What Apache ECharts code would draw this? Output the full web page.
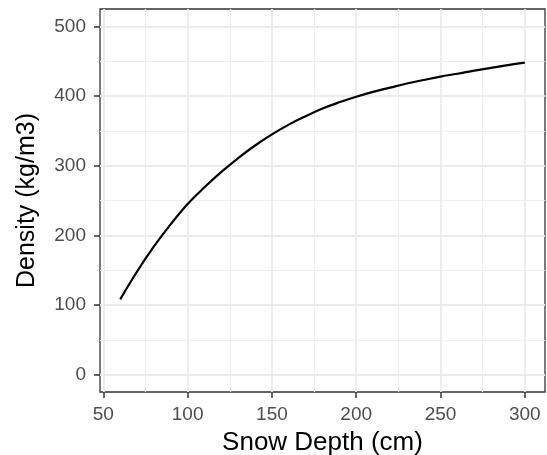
<!DOCTYPE html>
<html>
<head>
<meta charset="utf-8">
<script src="https://cdn.jsdelivr.net/npm/echarts@6/dist/echarts.min.js"></script>
<style>
html,body{margin:0;padding:0;background:#fff;}
#chart{width:547px;height:455px;}
</style>
</head>
<body>
<div id="chart"></div>
<script>
// Data
const snowDepth = [60, 70, 80, 90, 100, 110, 120, 130, 140, 150, 160, 170, 180, 190, 200,
                   210, 220, 230, 240, 250, 260, 270, 280, 290, 300];
const density   = [108, 148, 184, 216, 245, 269, 291, 311, 329, 345, 359, 371, 382, 391, 399,
                   406, 412, 418, 423, 428, 432, 436.5, 440.5, 444.5, 448];
const xTicks = [50, 100, 150, 200, 250, 300];
const yTicks = [0, 100, 200, 300, 400, 500];
const yMajorGrid = [0, 100, 200, 300, 400, 500];
const yMinorGrid = [50, 150, 250, 350, 450];
const xMinorGrid = [75, 125, 175, 225, 275];
const xTitle = 'Snow Depth (cm)';
const yTitle = 'Density (kg/m3)';

const FONT = '"Liberation Sans", Arial, sans-serif';
const chart = echarts.init(document.getElementById('chart'), null, {renderer: 'canvas'});
const pts = snowDepth.map((x, i) => [x, density[i]]);

const gridLines = yMajorGrid.map(v => ({yAxis: v, lineStyle: {color: '#EBEBEB', width: 1.8, type: 'solid'}}))
  .concat(yMinorGrid.map(v => ({yAxis: v, lineStyle: {color: '#EEEEEE', width: 1.2, type: 'solid'}})))
  .concat(xMinorGrid.map(v => ({xAxis: v, lineStyle: {color: '#EEEEEE', width: 1.2, type: 'solid'}})));

chart.setOption({
  animation: false,
  backgroundColor: '#ffffff',
  grid: {
    left: 100, right: 2, top: 9, bottom: 63,
    outerBoundsMode: 'none',
    containLabel: false,
    show: true, borderColor: '#333333', borderWidth: 1.3, backgroundColor: 'transparent'
  },
  xAxis: {
    type: 'value',
    min: 48, max: 312,
    interval: 50,
    name: xTitle,
    nameLocation: 'middle',
    nameGap: 38,
    nameTextStyle: {color: '#000', fontSize: 26, fontFamily: FONT},
    axisLine: {show: false, onZero: false},
    axisTick: {show: true, length: 6, lineStyle: {color: '#333333', width: 1.5},
      customValues: xTicks},
    axisLabel: {color: '#4D4D4D', fontSize: 19, fontFamily: FONT, margin: 13,
      customValues: xTicks},
    splitLine: {show: true, lineStyle: {color: '#EBEBEB', width: 1.8}}
  },
  yAxis: {
    type: 'value',
    min: -25, max: 525,
    name: yTitle,
    nameLocation: 'middle',
    nameGap: 60,
    nameRotate: 90,
    nameTextStyle: {color: '#000', fontSize: 25, fontFamily: FONT},
    axisLine: {show: false, onZero: false},
    axisTick: {show: true, length: 6, lineStyle: {color: '#333333', width: 1.5},
      customValues: yTicks},
    axisLabel: {color: '#4D4D4D', fontSize: 19, fontFamily: FONT, margin: 14,
      customValues: yTicks},
    splitLine: {show: false}
  },
  series: [
    {
      type: 'line', data: [], silent: true, z: 1,
      markLine: {silent: true, symbol: 'none', label: {show: false}, animation: false, data: gridLines}
    },
    {
      type: 'line',
      data: pts,
      smooth: 0.4,
      showSymbol: false,
      symbol: 'none',
      lineStyle: {color: '#000000', width: 2.2},
      z: 5
    }
  ]
});
</script>
</body>
</html>
